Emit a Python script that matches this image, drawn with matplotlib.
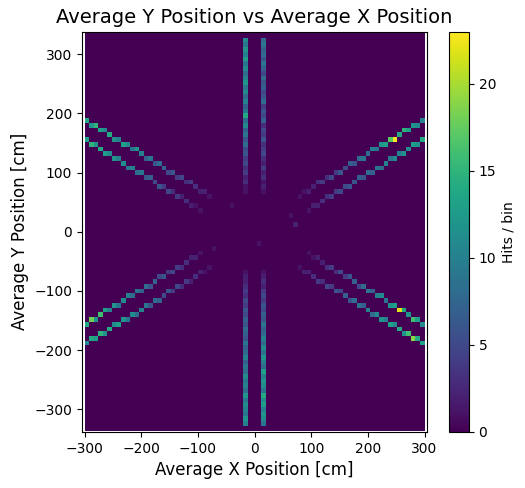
import numpy as np
import matplotlib
matplotlib.use("Agg")
from matplotlib import pyplot as plt

# histogram binning (cm)
x_edges = np.arange(-300, 301, 8)
y_edges = np.arange(-336, 337, 8)

# six detector arms: direction angle (deg), start radius, perpendicular offset of the two strips
arm_angles = [90, 270, 30, 150, 210, 330]
arm_r0 = [70, 70, 100, 100, 100, 100]
arm_step = [8.0, 8.0, 9.24, 9.24, 9.24, 9.24]
strip_offsets = [-14, 14]

# hit counts per bin along each strip (outwards from r0)
counts = {
    (90, -14): [1, 2, 1, 3, 2, 4, 2, 3, 5, 4, 3, 6, 4, 5, 3, 7, 5, 6, 4, 8, 6, 5, 7, 6, 8, 5, 7, 9, 6, 8, 7, 9, 8],
    (90, 14): [1, 1, 3, 2, 4, 3, 5, 4, 6, 5, 8, 6, 9, 7, 11, 8, 14, 9, 7, 10, 8, 11, 9, 12, 10, 8, 11, 9, 13, 10, 12, 9, 11],
    (270, -14): [1, 2, 2, 3, 4, 3, 5, 4, 6, 5, 7, 6, 8, 7, 6, 9, 7, 8, 10, 7, 9, 8, 11, 9, 10, 8, 12, 9, 11, 10, 9, 12, 10],
    (270, 14): [1, 2, 3, 2, 4, 5, 4, 6, 5, 7, 6, 9, 7, 8, 10, 8, 11, 9, 12, 10, 8, 13, 10, 12, 11, 9, 14, 11, 13, 10, 12, 11, 9],
    (30, -14): [1, 2, 2, 3, 3, 4, 4, 5, 5, 6, 6, 7, 6, 8, 7, 9, 8, 10, 9, 11, 10, 12, 11, 13, 12, 14, 13, 15, 14, 12],
    (30, 14): [1, 1, 2, 2, 3, 4, 3, 5, 4, 6, 5, 7, 6, 8, 9, 8, 10, 9, 12, 13, 17, 23, 14, 15, 13, 12, 11, 10, 9, 8],
    (150, -14): [1, 2, 2, 3, 4, 3, 5, 4, 6, 5, 7, 8, 6, 9, 7, 10, 12, 9, 11, 13, 10, 12, 14, 11, 13, 15, 12, 14, 11, 10],
    (150, 14): [1, 1, 2, 3, 2, 4, 3, 5, 4, 6, 5, 7, 6, 9, 8, 10, 9, 11, 10, 12, 11, 13, 14, 12, 15, 13, 16, 12, 14, 11],
    (210, -14): [1, 2, 2, 3, 3, 4, 5, 4, 6, 5, 7, 6, 8, 7, 9, 8, 10, 11, 9, 12, 10, 13, 16, 12, 18, 14, 15, 12, 13, 10],
    (210, 14): [1, 1, 2, 3, 2, 4, 3, 5, 4, 6, 5, 7, 8, 6, 9, 10, 8, 11, 9, 12, 13, 11, 14, 12, 15, 13, 14, 11, 12, 10],
    (330, -14): [1, 2, 2, 3, 4, 3, 5, 4, 6, 5, 7, 6, 8, 9, 7, 10, 8, 11, 12, 10, 13, 11, 14, 12, 16, 19, 14, 13, 12, 10],
    (330, 14): [1, 1, 2, 2, 3, 4, 3, 5, 4, 6, 7, 5, 8, 9, 7, 10, 11, 9, 12, 13, 22, 14, 12, 16, 13, 11, 14, 12, 11, 9],
}

# a few isolated hits near the centre
stray_x = [-75, 75, 65, -40, 10]
stray_y = [-30, 15, 25, 40, -20]
stray_w = [1, 2, 1, 1, 1]

xs, ys, ws = list(stray_x), list(stray_y), list(stray_w)
for ang, r0, step in zip(arm_angles, arm_r0, arm_step):
    a = np.deg2rad(ang)
    d = np.array([np.cos(a), np.sin(a)])
    n = np.array([-np.sin(a), np.cos(a)])
    for off in strip_offsets:
        c = counts[(ang, off)]
        for i, w in enumerate(c):
            p = d * (r0 + i * step) + n * off
            xs.append(p[0])
            ys.append(p[1])
            ws.append(w)

fig = plt.figure(figsize=(5.25, 4.88), dpi=100)
ax = fig.add_axes([0.156, 0.115, 0.658, 0.82])
cax = fig.add_axes([0.855, 0.115, 0.038, 0.82])
h = ax.hist2d(xs, ys, bins=[x_edges, y_edges], weights=ws, cmap="viridis", vmin=0)
cb = fig.colorbar(h[3], cax=cax)
cb.set_label("Hits / bin")
ax.set_xlim(-305, 305)
ax.set_ylim(-338, 338)
ax.set_title("Average Y Position vs Average X Position", fontsize=14)
ax.set_xlabel("Average X Position [cm]", fontsize=12)
ax.set_ylabel("Average Y Position [cm]", fontsize=12)
fig.savefig("out.png", dpi=100)
